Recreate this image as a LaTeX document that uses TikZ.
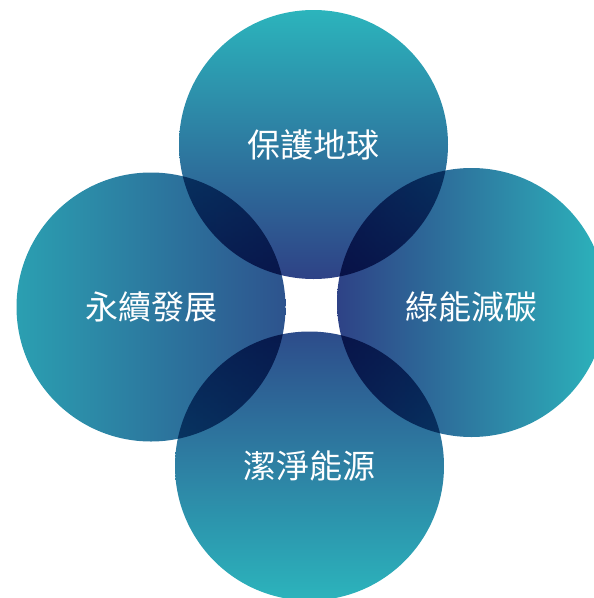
\documentclass[tikz,border=0pt]{standalone}
\usepackage{fontspec}
\newfontfamily\cjk{Noto Sans CJK TC}
\usepackage{tikz}
\usepackage{xcolor}
\definecolor{tealtop}{HTML}{2CB4BC}
\definecolor{tealmid}{HTML}{2A86A4}
\definecolor{bluedeep}{HTML}{2E4286}

\begin{document}
\begin{tikzpicture}[x=1pt, y=-1pt,
    bubble/.style={circle, minimum size=269pt, inner sep=0pt},
    label/.style={text=white, font=\cjk\fontsize{33}{40}\selectfont}]
    \useasboundingbox (0,0) rectangle (594,598);
    \clip (0,0) rectangle (594,598);
    \begin{scope}[blend group=multiply]
	\node[bubble, top color=tealtop, middle color=tealmid, bottom color=bluedeep] (protect) at (313.5,144.5) {};
	\node[bubble, left color=tealtop!55!tealmid, middle color=tealmid, right color=bluedeep!75!tealmid] (sustain) at (151,307) {};
	\node[bubble, left color=bluedeep, middle color=tealmid, right color=tealtop] (carbon) at (471.5,302.5) {};
	\node[bubble, top color=bluedeep!85!tealmid, middle color=tealmid, bottom color=tealtop] (energy) at (309.5,466) {};
    \end{scope}
	\node[label] at (protect.center) {保護地球};
	\node[label] at (sustain.center) {永續發展};
	\node[label] at ([yshift=-4.5pt]carbon.center) {綠能減碳};
	\node[label] at (energy.center) {潔淨能源};
\end{tikzpicture}
\end{document}
